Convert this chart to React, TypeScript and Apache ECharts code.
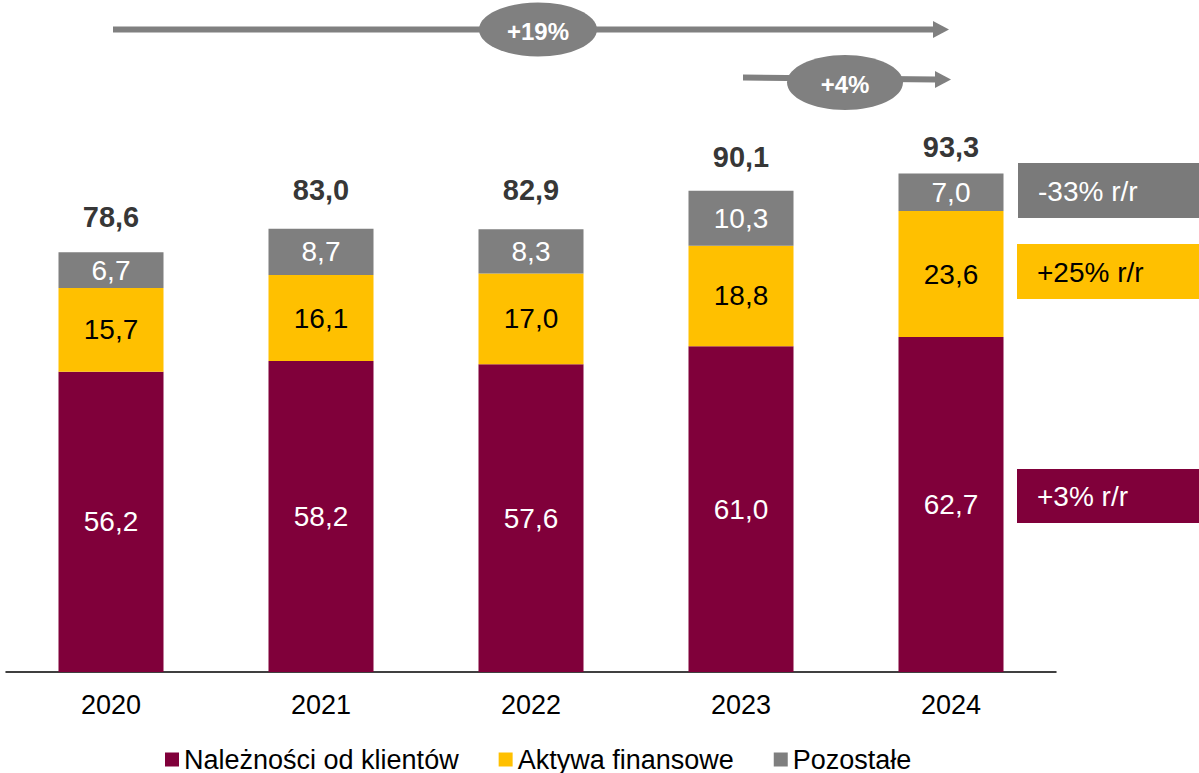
import React, { useEffect, useRef } from "react";
import * as echarts from "echarts";

// Balance sheet assets by year (PLN bn), stacked
const categories = ["2020", "2021", "2022", "2023", "2024"];
const seriesNames = ["Należności od klientów", "Aktywa finansowe", "Pozostałe"];
const receivables = [56.2, 58.2, 57.6, 61.0, 62.7];
const financialAssets = [15.7, 16.1, 17.0, 18.8, 23.6];
const otherAssets = [6.7, 8.7, 8.3, 10.3, 7.0];
const totals = [78.6, 83.0, 82.9, 90.1, 93.3];

// Growth callouts
const growthOverall = "+19%";
const growthLastYear = "+4%";
const yoyOther = "-33% r/r";
const yoyFinancial = "+25% r/r";
const yoyReceivables = "+3% r/r";

// Vertical gap (px) between each bar top and its total label
const totalLabelGap = [21, 24, 25, 19, 12];

const MAROON = "#80003A";
const YELLOW = "#FFC000";
const GREY = "#7F7F7F";
const FONT = "'Liberation Sans', Arial, sans-serif";

const fmt = (v: number) => v.toFixed(1).replace(".", ",");

export default function App() {
  const ref = useRef<HTMLDivElement>(null);

  useEffect(() => {
    if (!ref.current) return;
    const chart = echarts.init(ref.current, undefined, { renderer: "svg" });

    const barSeries = (name: string, data: number[], color: string, textColor: string) => ({
      name,
      type: "bar",
      stack: "total",
      data,
      barWidth: "50%",
      itemStyle: { color },
      label: {
        show: true,
        position: "inside",
        color: textColor,
        fontSize: 28,
        fontFamily: FONT,
        formatter: (p: any) => fmt(p.value),
      },
    });

    chart.setOption({
      animation: false,
      textStyle: { fontFamily: FONT },
      grid: { left: 6, right: 143, top: 31, bottom: 101, containLabel: false },
      legend: {
        data: seriesNames,
        left: 165,
        top: 746,
        padding: 0,
        itemWidth: 14,
        itemHeight: 14,
        itemGap: 40,
        icon: "rect",
        textStyle: { fontSize: 27, lineHeight: 26, color: "#000", fontFamily: FONT },
      },
      xAxis: {
        type: "category",
        data: categories,
        axisLine: { lineStyle: { color: "#000", width: 1.5 } },
        axisTick: { show: false },
        axisLabel: { fontSize: 27, color: "#000", margin: 19, fontFamily: FONT },
      },
      yAxis: {
        type: "value",
        min: 0,
        max: 120,
        show: false,
        splitLine: { show: false },
      },
      series: [
        barSeries(seriesNames[0], receivables, MAROON, "#fff"),
        barSeries(seriesNames[1], financialAssets, YELLOW, "#000"),
        barSeries(seriesNames[2], otherAssets, GREY, "#fff"),
        {
          name: "Suma",
          type: "scatter",
          symbolSize: 0,
          silent: true,
          data: totals.map((v, i) => ({ value: v, label: { distance: totalLabelGap[i] } })),
          label: {
            show: true,
            position: "top",
            color: "#000",
            fontSize: 29,
            fontWeight: "bold",
            fontFamily: FONT,
            formatter: (p: any) => fmt(p.value),
          },
        },
      ],
    });

    // Growth arrows anchored on the category centres
    const cx = (i: number) => chart.convertToPixel({ xAxisIndex: 0 }, categories[i]) as number;
    const x0 = cx(0);
    const x3 = cx(3);
    const x4 = cx(4);
    const tip = x4 - 2;
    const arrowGrey = "#808080";
    const boxGrey = "#7A7A7A";

    const label = (text: string, x: number, y: number, fill: string, size: number, bold = false, align = "center") => ({
      type: "text",
      style: {
        text,
        x,
        y,
        fill,
        fontSize: size,
        fontWeight: bold ? "bold" : "normal",
        fontFamily: FONT,
        align,
        verticalAlign: "middle",
      },
      z: 10,
    });

    chart.setOption({
      graphic: [
        // overall growth arrow
        { type: "line", shape: { x1: x0 + 2, y1: 29.5, x2: tip - 15, y2: 29.5 }, style: { stroke: arrowGrey, lineWidth: 6 } },
        { type: "polygon", shape: { points: [[tip - 16, 21], [tip, 29.5], [tip - 16, 38]] }, style: { fill: arrowGrey } },
        { type: "ellipse", shape: { cx: 538, cy: 29.5, rx: 59, ry: 27 }, style: { fill: arrowGrey } },
        label(growthOverall, 538, 31, "#fff", 24, true),
        // last-year growth arrow
        { type: "line", shape: { x1: x3 + 2, y1: 77.5, x2: tip - 13, y2: 79.5 }, style: { stroke: arrowGrey, lineWidth: 6 } },
        { type: "polygon", shape: { points: [[tip - 14, 71], [tip + 2, 79.5], [tip - 14, 88]] }, style: { fill: arrowGrey } },
        { type: "ellipse", shape: { cx: 845, cy: 82.5, rx: 58, ry: 27.5 }, style: { fill: arrowGrey } },
        label(growthLastYear, 845, 84, "#fff", 24, true),
        // year-on-year change boxes
        { type: "rect", shape: { x: 1018, y: 163, width: 181, height: 55 }, style: { fill: boxGrey } },
        label(yoyOther, 1038, 191, "#fff", 28, false, "left"),
        { type: "rect", shape: { x: 1017, y: 244, width: 182, height: 55 }, style: { fill: YELLOW } },
        label(yoyFinancial, 1037, 272, "#000", 28, false, "left"),
        { type: "rect", shape: { x: 1017, y: 469, width: 182, height: 54 }, style: { fill: MAROON } },
        label(yoyReceivables, 1037, 496.5, "#fff", 28, false, "left"),
      ],
    });

    return () => chart.dispose();
  }, []);

  return (
    <div
      ref={ref}
      style={{ position: "fixed", left: 0, top: 0, width: 1199, height: 773, background: "#fff" }}
    />
  );
}
